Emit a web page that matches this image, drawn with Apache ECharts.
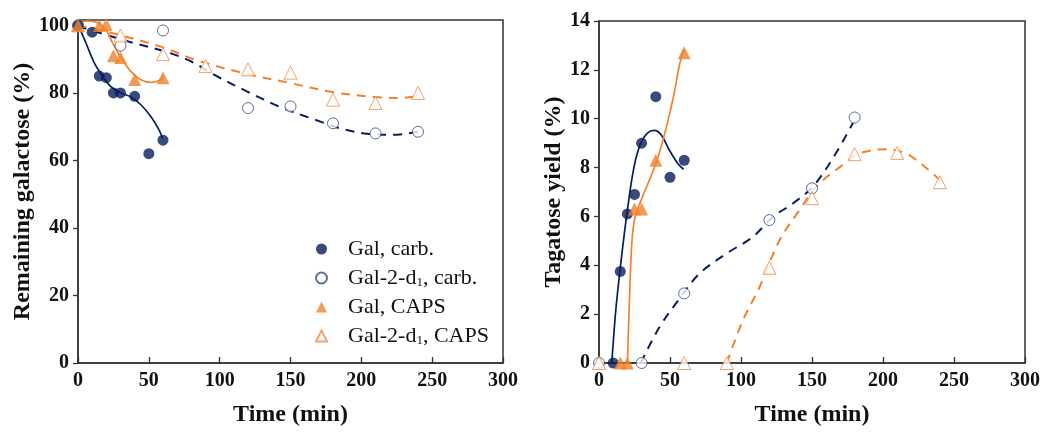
<!DOCTYPE html>
<html>
<head>
<meta charset="utf-8">
<script src="https://cdn.jsdelivr.net/npm/echarts@6/dist/echarts.min.js"></script>
<style>
  html, body { margin: 0; padding: 0; background: #fff; }
  #chart { width: 1044px; height: 432px; }
</style>
</head>
<body>
<div id="chart"></div>
<script>
// ---- Remaining galactose (%) vs time (min) ----
const remGalCarbT = [0, 10, 15, 20, 25, 30, 40, 50, 60];
const remGalCarbV = [100, 98, 85, 84.5, 80, 80, 79, 62, 66];
const remGalDCarbT = [0, 30, 60, 120, 150, 180, 210, 240];
const remGalDCarbV = [100, 94, 98.5, 75.5, 76, 71, 68, 68.5];
const remGalCapsT = [0, 15, 20, 25, 30, 40, 60];
const remGalCapsV = [100, 100, 100.3, 91, 90.5, 84, 84.5];
const remGalDCapsT = [0, 30, 60, 90, 120, 150, 180, 210, 240];
const remGalDCapsV = [100, 97, 91.5, 88, 87, 86, 78, 77, 80];

// fitted trend curves, [time, value]
const remGalCarbFit = [[0, 100.3], [5.6, 94.8], [11.5, 88.9], [17.4, 84.9], [23.2, 81.9], [30.3, 80], [37.3, 78.8], [44.4, 76.5], [51.4, 73], [57.3, 69], [59.6, 66.6]];
const remGalCapsFit = [[0, 100.8], [6.8, 101.3], [13.9, 100.8], [19.7, 98.8], [24.4, 94.8], [30.3, 90.4], [37.3, 86.4], [44.4, 83.9], [51.4, 83.1], [57.3, 83.7], [60.8, 84.9]];
const remGalDCarbFit = [[0, 99.8], [35, 95.3], [65, 91.8], [81.9, 88.9], [96, 85.4], [119.5, 80.4], [143, 75.8], [166.4, 72.2], [185.2, 69.5], [204, 67.9], [222.7, 67.6], [240.4, 68.5]];
const remGalDCapsFit = [[0, 100], [23.2, 97.8], [58.5, 93.7], [84.3, 89.6], [119.5, 85.6], [150, 82.9], [180.5, 80.2], [208.7, 78.8], [225.1, 78.5], [240.4, 79]];

// ---- Tagatose yield (%) vs time (min) ----
const tagGalCarbT = [10, 15, 20, 25, 30, 40, 50, 60];
const tagGalCarbV = [0, 3.75, 6.1, 6.9, 9, 10.9, 7.6, 8.3];
const tagGalDCarbT = [0, 30, 60, 120, 150, 180];
const tagGalDCarbV = [0, 0, 2.85, 5.85, 7.15, 10.05];
const tagGalCapsT = [15, 20, 25, 30, 40, 60];
const tagGalCapsV = [0, 0, 6.3, 6.3, 8.3, 12.7];
const tagGalDCapsT = [0, 60, 90, 120, 150, 180, 210, 240];
const tagGalDCapsV = [0, 0, 0, 3.9, 6.75, 8.55, 8.6, 7.4];

const tagGalCarbFit = [[9, 0], [11.8, 2.14], [15.3, 4.06], [20, 6.26], [24.7, 8.04], [29.4, 9.0], [34.1, 9.41], [38.8, 9.52], [43.6, 9.35], [49.4, 8.73], [55.3, 8.18], [59.6, 7.93]];
const tagGalCapsFit = [[20, 0], [21.2, 2.14], [23.1, 4.89], [25.4, 5.98], [30.6, 6.8], [36.5, 7.63], [42.4, 8.59], [48.2, 9.83], [53, 11.06], [56.5, 12.16], [59.6, 12.84]];
const tagGalDCarbFit = [[29.4, 0], [42.4, 1.45], [56.5, 2.62], [70.6, 3.65], [89.5, 4.47], [108.3, 5.16], [122.4, 5.98], [136.5, 6.53], [150.6, 7.22], [164.8, 8.39], [178.9, 9.83]];
const tagGalDCapsFit = [[90, 0], [101.2, 1.73], [113, 3.1], [127.1, 5.02], [141.2, 6.26], [153, 7.22], [170, 8.04], [184, 8.59], [202.5, 8.75], [216.6, 8.56], [230.7, 7.97], [241.3, 7.42]];

const xTicks = [0, 50, 100, 150, 200, 250, 300];
const yTicksLeft = [0, 20, 40, 60, 80, 100];
const yTicksRight = [0, 2, 4, 6, 8, 10, 12, 14];

const seriesNames = ['Gal, carb.', 'Gal-2-d1, carb.', 'Gal, CAPS', 'Gal-2-d1, CAPS'];

const NAVY = '#081d5c';
const ORANGE = '#f0822c';
const SERIF = '"Liberation Serif", "DejaVu Serif", serif';

function zip(t, v) { return t.map((x, i) => [x, v[i]]); }

function xAxisCfg(gridIndex) {
  return {
    gridIndex, type: 'value', min: 0, max: 300, interval: 50,
    name: 'Time (min)', nameLocation: 'middle', nameGap: 40,
    nameTextStyle: { fontFamily: SERIF, fontWeight: 'bold', fontSize: 24, color: '#111' },
    axisLine: { show: true, onZero: false, lineStyle: { color: '#333', width: 1.5 } },
    axisTick: { show: true, inside: true, length: 6, lineStyle: { color: '#333', width: 1.3 }, customValues: xTicks },
    axisLabel: { fontFamily: SERIF, fontWeight: 'bold', fontSize: 20, color: '#111', margin: 8, customValues: xTicks },
    splitLine: { show: false }
  };
}

function yAxisCfg(gridIndex, max, ticks, name, gap) {
  return {
    gridIndex, type: 'value', min: 0, max,
    name, nameLocation: 'middle', nameGap: gap,
    nameTextStyle: { fontFamily: SERIF, fontWeight: 'bold', fontSize: 24, color: '#111' },
    axisLine: { show: true, onZero: false, lineStyle: { color: '#333', width: 1.5 } },
    axisTick: { show: true, inside: false, length: 5, lineStyle: { color: '#333', width: 1.3 }, customValues: ticks },
    axisLabel: { fontFamily: SERIF, fontWeight: 'bold', fontSize: 20, color: '#111', margin: 9, customValues: ticks },
    splitLine: { show: false }
  };
}

const markerStyles = [
  { symbol: 'circle', symbolSize: 11, itemStyle: { color: NAVY } },
  { symbol: 'circle', symbolSize: 11, itemStyle: { color: '#fff', borderColor: '#34467f', borderWidth: 1 } },
  { symbol: 'triangle', symbolSize: 13, itemStyle: { color: ORANGE } },
  { symbol: 'triangle', symbolSize: 13, itemStyle: { color: '#fff', borderColor: '#f08c46', borderWidth: 1 } }
];
const fitStyles = [
  { color: NAVY, width: 1.7, type: 'solid' },
  { color: NAVY, width: 2, type: [9, 7] },
  { color: ORANGE, width: 1.7, type: 'solid' },
  { color: ORANGE, width: 2, type: [9, 7] }
];

function panelSeries(idx, points, fits) {
  const out = [];
  fits.forEach((f, i) => {
    out.push({
      type: 'line', xAxisIndex: idx, yAxisIndex: idx, data: f,
      smooth: 0.35, showSymbol: false, silent: true, z: 2,
      lineStyle: fitStyles[i]
    });
  });
  points.forEach((p, i) => {
    out.push(Object.assign({
      type: 'scatter', name: seriesNames[i], xAxisIndex: idx, yAxisIndex: idx,
      data: p, z: 3 + (i === 0 || i === 2 ? 1 : 0)
    }, markerStyles[i]));
  });
  return out;
}

const chart = echarts.init(document.getElementById('chart'), null, { renderer: 'canvas' });
chart.setOption({
  backgroundColor: '#fff',
  animation: false,
  grid: [
    { left: 78, right: 541, top: 20, bottom: 69, show: true, borderColor: '#333', borderWidth: 1.5, backgroundColor: 'transparent' },
    { left: 599, right: 19, top: 21, bottom: 69, show: true, borderColor: '#333', borderWidth: 1.5, backgroundColor: 'transparent' }
  ],
  xAxis: [xAxisCfg(0), xAxisCfg(1)],
  yAxis: [
    yAxisCfg(0, 101.6, yTicksLeft, 'Remaining galactose (%)', 43),
    yAxisCfg(1, 14, yTicksRight, 'Tagatose yield (%)', 33)
  ],
  legend: {
    data: seriesNames,
    orient: 'vertical', left: 310, top: 233,
    itemWidth: 11, itemHeight: 11, itemGap: 7,
    textStyle: {
      fontFamily: SERIF, fontSize: 22, color: '#111', padding: [0, 0, 0, 16],
      rich: { s: { fontFamily: SERIF, fontSize: 13, color: '#111', verticalAlign: 'bottom', padding: [8, 0, 0, 0] } }
    },
    formatter: n => n.replace('d1', 'd{s|1}')
  },
  series: [
    ...panelSeries(0,
      [zip(remGalCarbT, remGalCarbV), zip(remGalDCarbT, remGalDCarbV), zip(remGalCapsT, remGalCapsV), zip(remGalDCapsT, remGalDCapsV)],
      [remGalCarbFit, remGalDCarbFit, remGalCapsFit, remGalDCapsFit]),
    ...panelSeries(1,
      [zip(tagGalCarbT, tagGalCarbV), zip(tagGalDCarbT, tagGalDCarbV), zip(tagGalCapsT, tagGalCapsV), zip(tagGalDCapsT, tagGalDCapsV)],
      [tagGalCarbFit, tagGalDCarbFit, tagGalCapsFit, tagGalDCapsFit])
  ]
});
</script>
</body>
</html>
